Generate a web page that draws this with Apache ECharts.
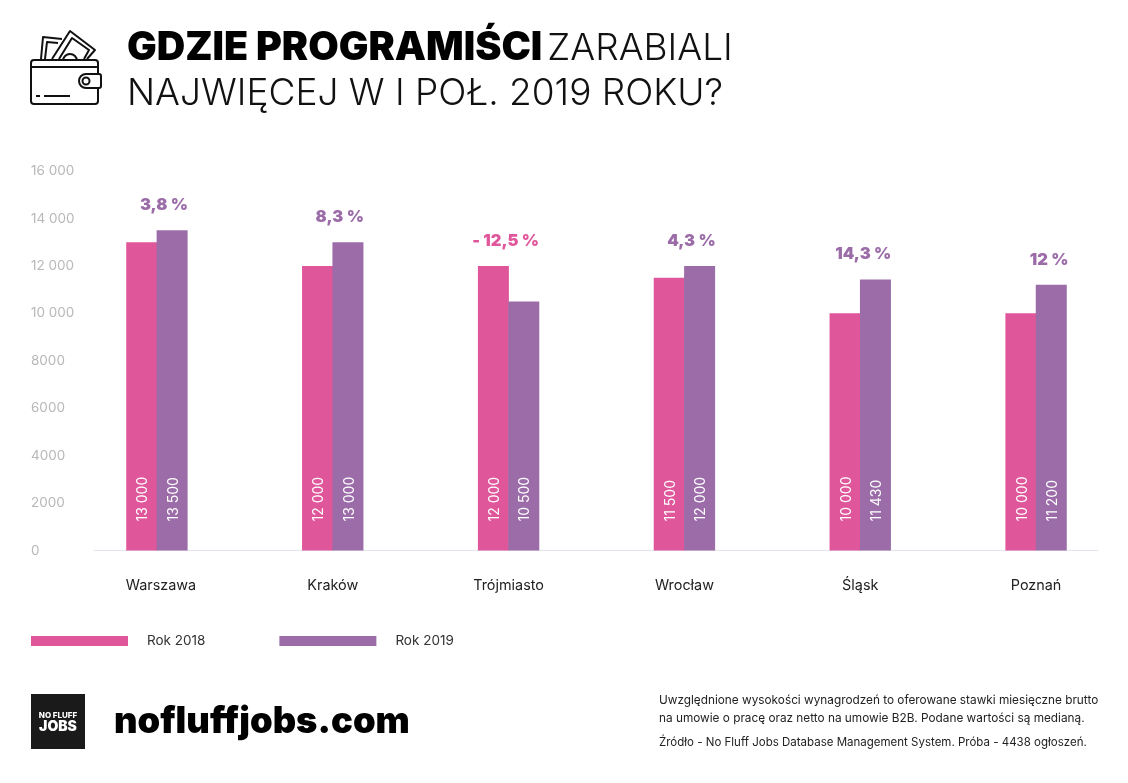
<!DOCTYPE html>
<html lang="pl">
<head>
<meta charset="UTF-8" />
<title>Gdzie programiści zarabiali najwięcej</title>
<style>
  html, body { margin: 0; padding: 0; background: #fff; }
  #main { width: 1128px; height: 783px; }
</style>
</head>
<body>
<div id="main"></div>
<script src="https://cdn.jsdelivr.net/npm/echarts@6/dist/echarts.min.js"></script>
<script>
const cities = ["Warszawa", "Kraków", "Trójmiasto", "Wrocław", "Śląsk", "Poznań"];
const rok2018 = [13000, 12000, 12000, 11500, 10000, 10000];
const rok2019 = [13500, 13000, 10500, 12000, 11430, 11200];
const zmiana = ["3,8 %", "8,3 %", "- 12,5 %", "4,3 %", "14,3 %", "12 %"];
const yTicks = ["0", "2000", "4000", "6000", "8000", "10 000", "12 000", "14 000", "16 000"];

const PINK = "#e0569b";
const PURPLE = "#9b6ca8";
const FONT = "Inter, 'Noto Sans', sans-serif";
const changeShift = [7, 7, -3, 7, 3, 13];

const fmt = (v) => (v >= 10000 ? String(v).replace(/(\d{3})$/, " $1") : String(v));

// offset is in the label's rotated frame, so y here moves the text sideways
const valueLabel = {
  show: true,
  position: "insideBottom",
  distance: 29,
  offset: [0, 1.5],
  rotate: 90,
  align: "left",
  verticalAlign: "middle",
  color: "#fff",
  fontSize: 14,
  fontFamily: FONT,
  formatter: (p) => fmt(p.value),
};

const stroke = { stroke: "#111", lineWidth: 2, fill: null, lineJoin: "round" };
const wallet = [
  { type: "polyline", shape: { points: [[41, 59], [43, 37], [62, 39]] }, style: stroke },
  { type: "polyline", shape: { points: [[45, 59], [47, 42], [58, 43]] }, style: stroke },
  { type: "polyline", shape: { points: [[52, 59], [70, 31], [95, 50], [87, 59]] }, style: stroke },
  { type: "polyline", shape: { points: [[59, 59], [72, 38], [89, 50], [84, 59]] }, style: stroke },
  { type: "arc", shape: { cx: 70, cy: 61, r: 7, startAngle: Math.PI, endAngle: 0 }, style: stroke },
  { type: "rect", shape: { x: 31, y: 60, width: 67, height: 44, r: 3 }, style: stroke },
  { type: "line", shape: { x1: 32, y1: 67, x2: 97, y2: 67 }, style: stroke },
  { type: "rect", shape: { x: 79, y: 74, width: 22, height: 14, r: [7, 2, 2, 7] }, style: { stroke: "#111", lineWidth: 2, fill: "#fff" } },
  { type: "circle", shape: { cx: 86, cy: 81, r: 3.5 }, style: stroke },
  { type: "line", shape: { x1: 36, y1: 96, x2: 40, y2: 96 }, style: stroke },
  { type: "line", shape: { x1: 44, y1: 96, x2: 70, y2: 96 }, style: stroke },
];

const note = (text, y, size) => ({
  type: "text",
  left: 659,
  top: y,
  style: { text, fontSize: size, fontFamily: FONT, fill: "#222" },
});

const myChart = echarts.init(document.getElementById("main"));
myChart.setOption({
  backgroundColor: "#fff",
  animation: false,
  title: {
    left: 127,
    top: 26,
    padding: 0,
    text: "{b|GDZIE PROGRAMIŚCI} {l|ZARABIALI}\n{l|NAJWIĘCEJ W I POŁ. 2019 ROKU?}",
    textStyle: {
      rich: {
        b: { fontFamily: FONT, fontSize: 39.4, fontWeight: 900, color: "#000", lineHeight: 45 },
        l: { fontFamily: FONT, fontSize: 37, fontWeight: 300, color: "#111", lineHeight: 45 },
      },
    },
  },
  legend: {
    left: 31,
    top: 634,
    padding: 0,
    itemWidth: 97,
    itemHeight: 10,
    itemGap: 74,
    icon: "rect",
    data: ["Rok 2018", "Rok 2019"],
    textStyle: { fontFamily: FONT, fontSize: 13.5, color: "#333", padding: [0, 0, 0, 14] },
  },
  grid: { left: 69, top: 171, width: 1055, height: 379.5 },
  xAxis: {
    type: "category",
    // Warszawa sits a little right of its bars in the reference
    data: cities.map((c, i) => (i === 0 ? { value: c, textStyle: { padding: [0, 0, 0, 8] } } : c)),
    axisLine: { show: false },
    axisTick: { show: false },
    axisLabel: { margin: 28, fontFamily: FONT, fontSize: 14.4, color: "#222" },
  },
  yAxis: {
    type: "value",
    min: 0,
    max: 16000,
    interval: 2000,
    axisLine: { show: false },
    axisTick: { show: false },
    splitLine: { show: false },
    axisLabel: {
      margin: 38,
      align: "left",
      padding: [5, 0, 0, 0],
      fontFamily: FONT,
      fontSize: 13.5,
      color: "#b8b8b8",
      formatter: (v) => yTicks[v / 2000],
    },
  },
  series: [
    { name: "Rok 2018", type: "bar", data: rok2018, barWidth: 31, barGap: "-2%", itemStyle: { color: PINK }, label: valueLabel },
    { name: "Rok 2019", type: "bar", data: rok2019, barWidth: 31, barGap: "-2%", itemStyle: { color: PURPLE }, label: valueLabel },
    {
      name: "Zmiana",
      type: "scatter",
      symbolSize: 0,
      silent: true,
      itemStyle: { opacity: 1 },
      data: cities.map((c, i) => ({
        value: Math.max(rok2018[i], rok2019[i]),
        label: {
          show: true,
          position: "top",
          distance: 16.5,
          offset: [changeShift[i], 0],
          formatter: zmiana[i],
          fontFamily: FONT,
          fontSize: 16.5,
          fontWeight: 900,
          color: rok2019[i] < rok2018[i] ? PINK : PURPLE,
        },
      })),
    },
  ],
  graphic: [
    { type: "line", shape: { x1: 94, y1: 550.5, x2: 1098, y2: 550.5 }, style: { stroke: "#e4e4ec", lineWidth: 1 }, z: 0 },
    ...wallet,
    { type: "rect", shape: { x: 31, y: 694, width: 54, height: 55 }, style: { fill: "#1a1a1a" } },
    { type: "text", x: 58, y: 716, style: { text: "NO FLUFF", fontSize: 8, fontWeight: 800, fontFamily: FONT, fill: "#fff", align: "center", verticalAlign: "middle" } },
    { type: "text", x: 58, y: 727, style: { text: "JOBS", fontSize: 14, fontWeight: 900, fontFamily: FONT, fill: "#fff", align: "center", verticalAlign: "middle" } },
    { type: "text", x: 114, y: 722, style: { text: "nofluffjobs.com", fontSize: 36.3, fontWeight: 900, fontFamily: FONT, fill: "#000", verticalAlign: "middle" } },
    note("Uwzględnione wysokości wynagrodzeń to oferowane stawki miesięczne brutto", 694, 11.8),
    note("na umowie o pracę oraz netto na umowie B2B. Podane wartości są medianą.", 712, 11.8),
    note("Źródło - No Fluff Jobs Database Management System. Próba - 4438 ogłoszeń.", 737, 11.5),
  ],
});
</script>
</body>
</html>
